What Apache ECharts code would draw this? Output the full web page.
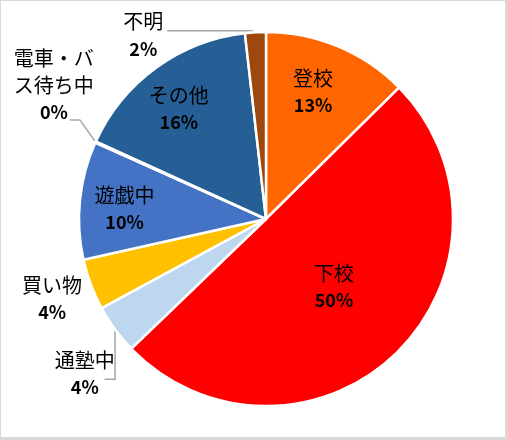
<!DOCTYPE html>
<html><head><meta charset="utf-8">
<script src="https://cdn.jsdelivr.net/npm/echarts@6/dist/echarts.min.js"></script>
<style>
html,body{margin:0;padding:0;background:#d9d9d9;}
#c{position:absolute;left:1px;top:1px;width:504px;height:436px;background:#fff;}
</style></head>
<body><div id="c"></div>
<script>
// categories and values (percent of total)
var categories = ['登校', '下校', '通塾中', '買い物', '遊戯中', '電車・バ\nス待ち中', 'その他', '不明'];
var values = [12.6, 50.2, 4.3, 4.4, 10.2, 0.1, 16.4, 1.8];
var colors = ['#FF6600', '#FF0000', '#BDD7EE', '#FFC000', '#4472C4', '#A5A5A5', '#265F96', '#9E480E'];

// label styling per slice
var R = 187;
var labelMode = ['inside', 'inside', 'outside', 'outside', 'inside', 'outside', 'inside', 'outside'];
var insideFactor = [0.72, 0.52, 0, 0, 0.76, 0, 0.75, 0];
var outsideLine = [null, null, {length: 14, length2: 6, show: true}, {length: 4, length2: 2, show: false},
  null, {length: 26, length2: 10, show: true}, null, {length: 2, length2: 78, show: true}];
var shift = [[-6, 0], [-2, -4], [22, 36], [2, 13], [3, 4], [37, -46], [-3, 6], [-9, 5]];
// leader line: anchor in label box (fractions), elbow kind
var anchor = [null, null, [0.83, 0.63, 'v'], null, null, [0.70, 0.98, 'h', 10], null, [1.1, 0.41, 'h', -4]];

var total = values.reduce(function (a, b) { return a + b; }, 0);
var mid = [];
var acc = 0;
values.forEach(function (v) { mid.push((acc + v / 2) / total * Math.PI * 2); acc += v; });

var data = categories.map(function (name, i) {
  var item = {name: name, value: values[i], itemStyle: {color: colors[i]}};
  if (labelMode[i] === 'inside') {
    item.label = {position: 'inside'};
    item.labelLine = {show: false};
  } else {
    item.label = {position: 'outside'};
    item.labelLine = outsideLine[i];
  }
  return item;
});

var chart = echarts.init(document.getElementById('c'));
chart.setOption({
  animation: false,
  series: [{
    type: 'pie',
    center: [265, 218],
    radius: R,
    startAngle: 90,
    clockwise: true,
    avoidLabelOverlap: false,
    data: data,
    itemStyle: {borderColor: '#fff', borderWidth: 2.5},
    label: {
      color: '#000',
      overflow: 'none',
      formatter: function (p) {
        return '{n|' + p.name + '}\n{p|' + Math.round(p.value / total * 100) + '%}';
      },
      rich: {
        n: {fontFamily: 'Noto Sans CJK JP', fontSize: 20, lineHeight: 27, align: 'center', color: '#000'},
        p: {fontFamily: 'Noto Sans CJK JP', fontWeight: 'bold', fontSize: 18, lineHeight: 27, align: 'center', color: '#000'}
      }
    },
    labelLine: {lineStyle: {color: '#A6A6A6', width: 1.5}, smooth: false},
    labelLayout: function (p) {
      var i = p.dataIndex;
      var dx = shift[i][0], dy = shift[i][1];
      if (labelMode[i] === 'inside') {
        var d = (insideFactor[i] - 0.5) * R;
        return {dx: d * Math.sin(mid[i]) + dx, dy: -d * Math.cos(mid[i]) + dy};
      }
      var out = {dx: dx, dy: dy};
      var a = anchor[i];
      if (a && p.labelLinePoints) {
        var r = p.labelRect;
        var p0 = p.labelLinePoints[0];
        var A = [r.x + dx + r.width * a[0], r.y + dy + r.height * a[1]];
        var E = a[2] === 'v' ? [p0[0], A[1]] : [A[0] + a[3], A[1]];
        if (a[2] === 'h' && a[3] < 0) { E = [p0[0] + a[3], A[1]]; }
        out.labelLinePoints = [[p0[0], p0[1]], E, A];
      }
      return out;
    }
  }]
});
</script></body></html>
